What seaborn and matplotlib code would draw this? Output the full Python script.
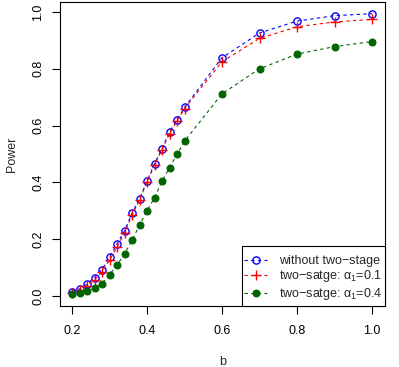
import numpy as np
import pandas as pd
import matplotlib
matplotlib.use("Agg")
import matplotlib.pyplot as plt
from matplotlib.patches import Rectangle
import seaborn as sns

b = [0.20, 0.22, 0.24, 0.26, 0.28, 0.30, 0.32, 0.34, 0.36, 0.38, 0.40,
     0.42, 0.44, 0.46, 0.48, 0.50, 0.6, 0.7, 0.8, 0.9, 1.0]
without_two_stage = [0.015, 0.025, 0.042, 0.065, 0.093, 0.136, 0.183, 0.229, 0.291, 0.343, 0.404,
                     0.466, 0.519, 0.577, 0.620, 0.664, 0.839, 0.926, 0.968, 0.987, 0.994]
two_stage_01 = [0.012, 0.020, 0.036, 0.057, 0.086, 0.126, 0.172, 0.222, 0.285, 0.338, 0.400,
                0.461, 0.515, 0.572, 0.616, 0.660, 0.825, 0.907, 0.948, 0.965, 0.974]
two_stage_04 = [0.007, 0.011, 0.018, 0.027, 0.043, 0.075, 0.109, 0.148, 0.196, 0.249, 0.300,
                0.346, 0.404, 0.452, 0.499, 0.545, 0.712, 0.800, 0.852, 0.878, 0.896]
labels = ["without two\u2212stage", "two\u2212satge: \u03b1$_1$=0.1", "two\u2212satge: \u03b1$_1$=0.4"]
xticks = [0.2, 0.4, 0.6, 0.8, 1.0]
yticks = [0.0, 0.2, 0.4, 0.6, 0.8, 1.0]

sns.set_style("white")
plt.rcParams['font.family'] = ['Liberation Sans', 'DejaVu Sans']
plt.rcParams['mathtext.fontset'] = 'custom'
plt.rcParams['mathtext.rm'] = 'Liberation Sans'
plt.rcParams['mathtext.it'] = 'Liberation Sans'
plt.rcParams['mathtext.default'] = 'regular'

W, H = 399, 367
fig = plt.figure(figsize=(W/100, H/100), dpi=100)
ax_l, ax_r, ax_t, ax_b = 60, 385, 2, 306
ax = fig.add_axes([ax_l/W, 1-ax_b/H, (ax_r-ax_l)/W, (ax_b-ax_t)/H])

df = pd.DataFrame({"b": b, "without": without_two_stage, "a01": two_stage_01, "a04": two_stage_04})

dash = (0, (3, 3))
sns.lineplot(data=df, x="b", y="without", ax=ax, color="blue", linestyle=dash, linewidth=0.8,
             marker="o", markersize=5.2, markerfacecolor="none", markeredgecolor="blue",
             markeredgewidth=1.0, label=labels[0])
sns.lineplot(data=df, x="b", y="a01", ax=ax, color="red", linestyle=dash, linewidth=0.8,
             marker="+", markersize=7.5, markeredgecolor="red", markeredgewidth=1.0, label=labels[1])
sns.lineplot(data=df, x="b", y="a04", ax=ax, color="#006400", linestyle=dash, linewidth=0.8,
             marker="o", markersize=5.0, markerfacecolor="#006400", markeredgecolor="#006400",
             label=labels[2])

ax.set_xlim(0.2 - 12/375, 1.0 + 13/375)
ax.set_ylim(-10/284, 1.0 + 10/284)
ax.set_xticks(xticks)
ax.set_xticklabels([f"{v:.1f}" for v in xticks])
ax.set_yticks(yticks)
ax.set_yticklabels([f"{v:.1f}" for v in yticks], rotation=90, va="center")
ax.tick_params(axis="both", direction="out", length=5.5, width=0.8, labelsize=9, colors="black",
               bottom=True, left=True, pad=6)
ax.tick_params(axis="x", pad=8)
for s in ax.spines.values():
    s.set_visible(True)
    s.set_color("black")
    s.set_linewidth(0.8)
ax.set_xlabel("b", fontsize=9, labelpad=14)
ax.set_ylabel("Power", fontsize=9, labelpad=10)

def to_axes(px, py):
    return ((px - ax_l) / (ax_r - ax_l), (ax_b - py) / (ax_b - ax_t))

# legend frame (R-style box)
x0, y0 = to_axes(242, 306)
x1, y1 = to_axes(385, 246)
ax.add_patch(Rectangle((x0, y0), x1 - x0, y1 - y0, transform=ax.transAxes,
                       facecolor="white", edgecolor="black", linewidth=0.8, zorder=5, clip_on=False))

lx, ly = to_axes(244, 255)
leg = ax.legend(loc="upper left", bbox_to_anchor=(lx, ly), fontsize=9, frameon=False,
                borderaxespad=0, borderpad=0, handlelength=1.85, handletextpad=0.95,
                labelspacing=0.12)
leg.set_zorder(6)

fig.savefig("out.png", dpi=100)
